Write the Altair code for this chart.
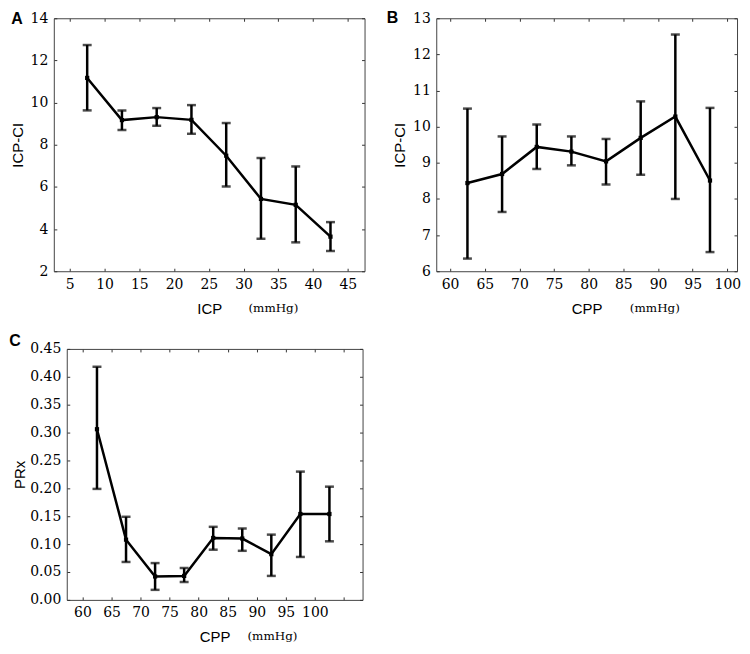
import altair as alt
import pandas as pd

# Panel A: ICP-CI vs ICP
a_x = [7.5, 12.5, 17.5, 22.5, 27.5, 32.5, 37.5, 42.5]
a_mean = [11.17, 9.17, 9.31, 9.18, 7.48, 5.43, 5.15, 3.64]
a_lo = [9.63, 8.70, 8.90, 8.52, 6.02, 3.54, 3.37, 2.96]
a_hi = [12.73, 9.63, 9.74, 9.88, 9.03, 7.37, 6.97, 4.33]
a_xticks = [5, 10, 15, 20, 25, 30, 35, 40, 45]
a_yticks = [2, 4, 6, 8, 10, 12, 14]

# Panel B: ICP-CI vs CPP
b_x = [62.5, 67.5, 72.5, 77.5, 82.5, 87.5, 92.5, 97.5]
b_mean = [8.44, 8.69, 9.44, 9.31, 9.04, 9.69, 10.28, 8.51]
b_lo = [6.35, 7.64, 8.83, 8.93, 8.40, 8.67, 8.00, 6.53]
b_hi = [10.50, 9.73, 10.06, 9.73, 9.66, 10.70, 12.55, 10.52]
b_xticks = [60, 65, 70, 75, 80, 85, 90, 95, 100]
b_yticks = [6, 7, 8, 9, 10, 11, 12, 13]

# Panel C: PRx vs CPP
c_x = [62.5, 67.5, 72.5, 77.5, 82.5, 87.5, 92.5, 97.5, 102.5]
c_mean = [0.306, 0.108, 0.042, 0.043, 0.111, 0.110, 0.082, 0.154, 0.154]
c_lo = [0.199, 0.068, 0.018, 0.032, 0.090, 0.088, 0.043, 0.077, 0.105]
c_hi = [0.418, 0.149, 0.066, 0.057, 0.131, 0.128, 0.117, 0.230, 0.203]
c_xticks = [60, 65, 70, 75, 80, 85, 90, 95, 100]
c_xticks_all = [60, 65, 70, 75, 80, 85, 90, 95, 100, 105]
c_yticks = [0.0, 0.05, 0.10, 0.15, 0.20, 0.25, 0.30, 0.35, 0.40, 0.45]

SERIF = "DejaVu Serif"
SANS = "Liberation Sans"
FRAME = "#444"


def tick_axis(orient, offset, values):
    return alt.Axis(orient=orient, offset=offset, values=values, labels=False,
                    grid=False, ticks=True, tickSize=3, tickWidth=1,
                    tickColor="#333", domain=True, domainColor=FRAME,
                    domainWidth=1)


def panel(label, lab_dx, lab_dy, xs, m, lo, hi, xdom, xticks, xticks_mirror,
          ydom, yticks, yfmt, ytitle, xtitle, unit_x, x0, wp, h, ytpad):
    w = x0 + wp
    df = pd.DataFrame({"x": xs, "m": m, "lo": lo, "hi": hi})
    xsc = alt.Scale(domain=xdom, range=[x0, w], nice=False, zero=False)
    ysc = alt.Scale(domain=ydom, nice=False, zero=False)
    lab_common = dict(domain=False, grid=False, ticks=False, labelFont=SERIF,
                      labelFontSize=14, labelColor="black", labelPadding=6,
                      titleFont=SANS, titleFontSize=15, titleFontWeight="normal",
                      titleColor="black")
    base = alt.Chart(df)
    # data line + labelled axes
    line = base.mark_line(color="black", strokeWidth=2.5).encode(
        x=alt.X("x:Q", scale=xsc, axis=alt.Axis(
            orient="bottom", values=xticks, title=xtitle, titleY=30,
            titleBaseline="top", **lab_common)),
        y=alt.Y("m:Q", scale=ysc, axis=alt.Axis(
            orient="left", offset=-x0, values=yticks, format=yfmt,
            title=ytitle, titlePadding=ytpad, **lab_common)),
    )
    # error bars + frame (bottom and left edges, inward ticks)
    rules = base.mark_rule(color="black", strokeWidth=2.5).encode(
        x=alt.X("x:Q", scale=xsc, title=None,
                axis=tick_axis("top", -h, xticks_mirror)),
        y=alt.Y("lo:Q", scale=ysc, title=None,
                axis=tick_axis("right", x0 - w, yticks)),
        y2="hi:Q",
    )
    # error bar caps + frame (top and right edges, inward ticks)
    caps = base.transform_fold(["lo", "hi"], as_=["k", "v"]).mark_tick(
        color="black", thickness=2.5, size=9, orient="horizontal").encode(
        x=alt.X("x:Q", scale=xsc, title=None,
                axis=tick_axis("bottom", -h, xticks_mirror)),
        y=alt.Y("v:Q", scale=ysc, title=None,
                axis=tick_axis("left", -w, yticks)),
    )
    # mean markers + unit label
    pts = base.mark_square(color="black", size=18, opacity=1).encode(
        x=alt.X("x:Q", scale=xsc, axis=alt.Axis(
            orient="bottom", labels=False, ticks=False, domain=False,
            grid=False, title="(mmHg)", titleFont=SERIF, titleFontSize=12,
            titleFontWeight="normal", titleColor="black", titleX=x0 + unit_x,
            titleY=31, titleBaseline="top")),
        y=alt.Y("m:Q", scale=ysc, axis=None),
    )
    lab = alt.Chart(pd.DataFrame({"t": [label]})).mark_text(
        font=SANS, fontWeight="bold", fontSize=16, align="center",
        baseline="top", color="black").encode(
        text="t:N", x=alt.value(x0 + lab_dx), y=alt.value(lab_dy))
    return alt.layer(line, rules, caps, pts, lab).resolve_scale(
        x="independent", y="independent").resolve_axis(
        x="independent", y="independent").properties(width=w, height=h)


pa = panel("A", -37, -7, a_x, a_mean, a_lo, a_hi, [2.7, 47.4], a_xticks, a_xticks,
           [2, 14], a_yticks, "d", "ICP-CI", "ICP", 220, 0, 312, 254, 5)
pb = panel("B", -44, -8, b_x, b_mean, b_lo, b_hi, [58.0, 101.4], b_xticks, b_xticks,
           [6, 13], b_yticks, "d", "ICP-CI", "CPP", 219, 0, 302, 254, 5)
pc = panel("C", -52, -16, c_x, c_mean, c_lo, c_hi, [57.3, 108.2], c_xticks, c_xticks_all,
           [0, 0.45], c_yticks, ".2f", "PRx", "CPP", 206, 13, 297, 252, 2)

chart = alt.vconcat(alt.hconcat(pa, pb, spacing=20), pc, spacing=15).properties(
    padding=0
).configure_view(stroke="transparent")

chart.save("out.html", embed_options={"renderer": "svg", "actions": False})
